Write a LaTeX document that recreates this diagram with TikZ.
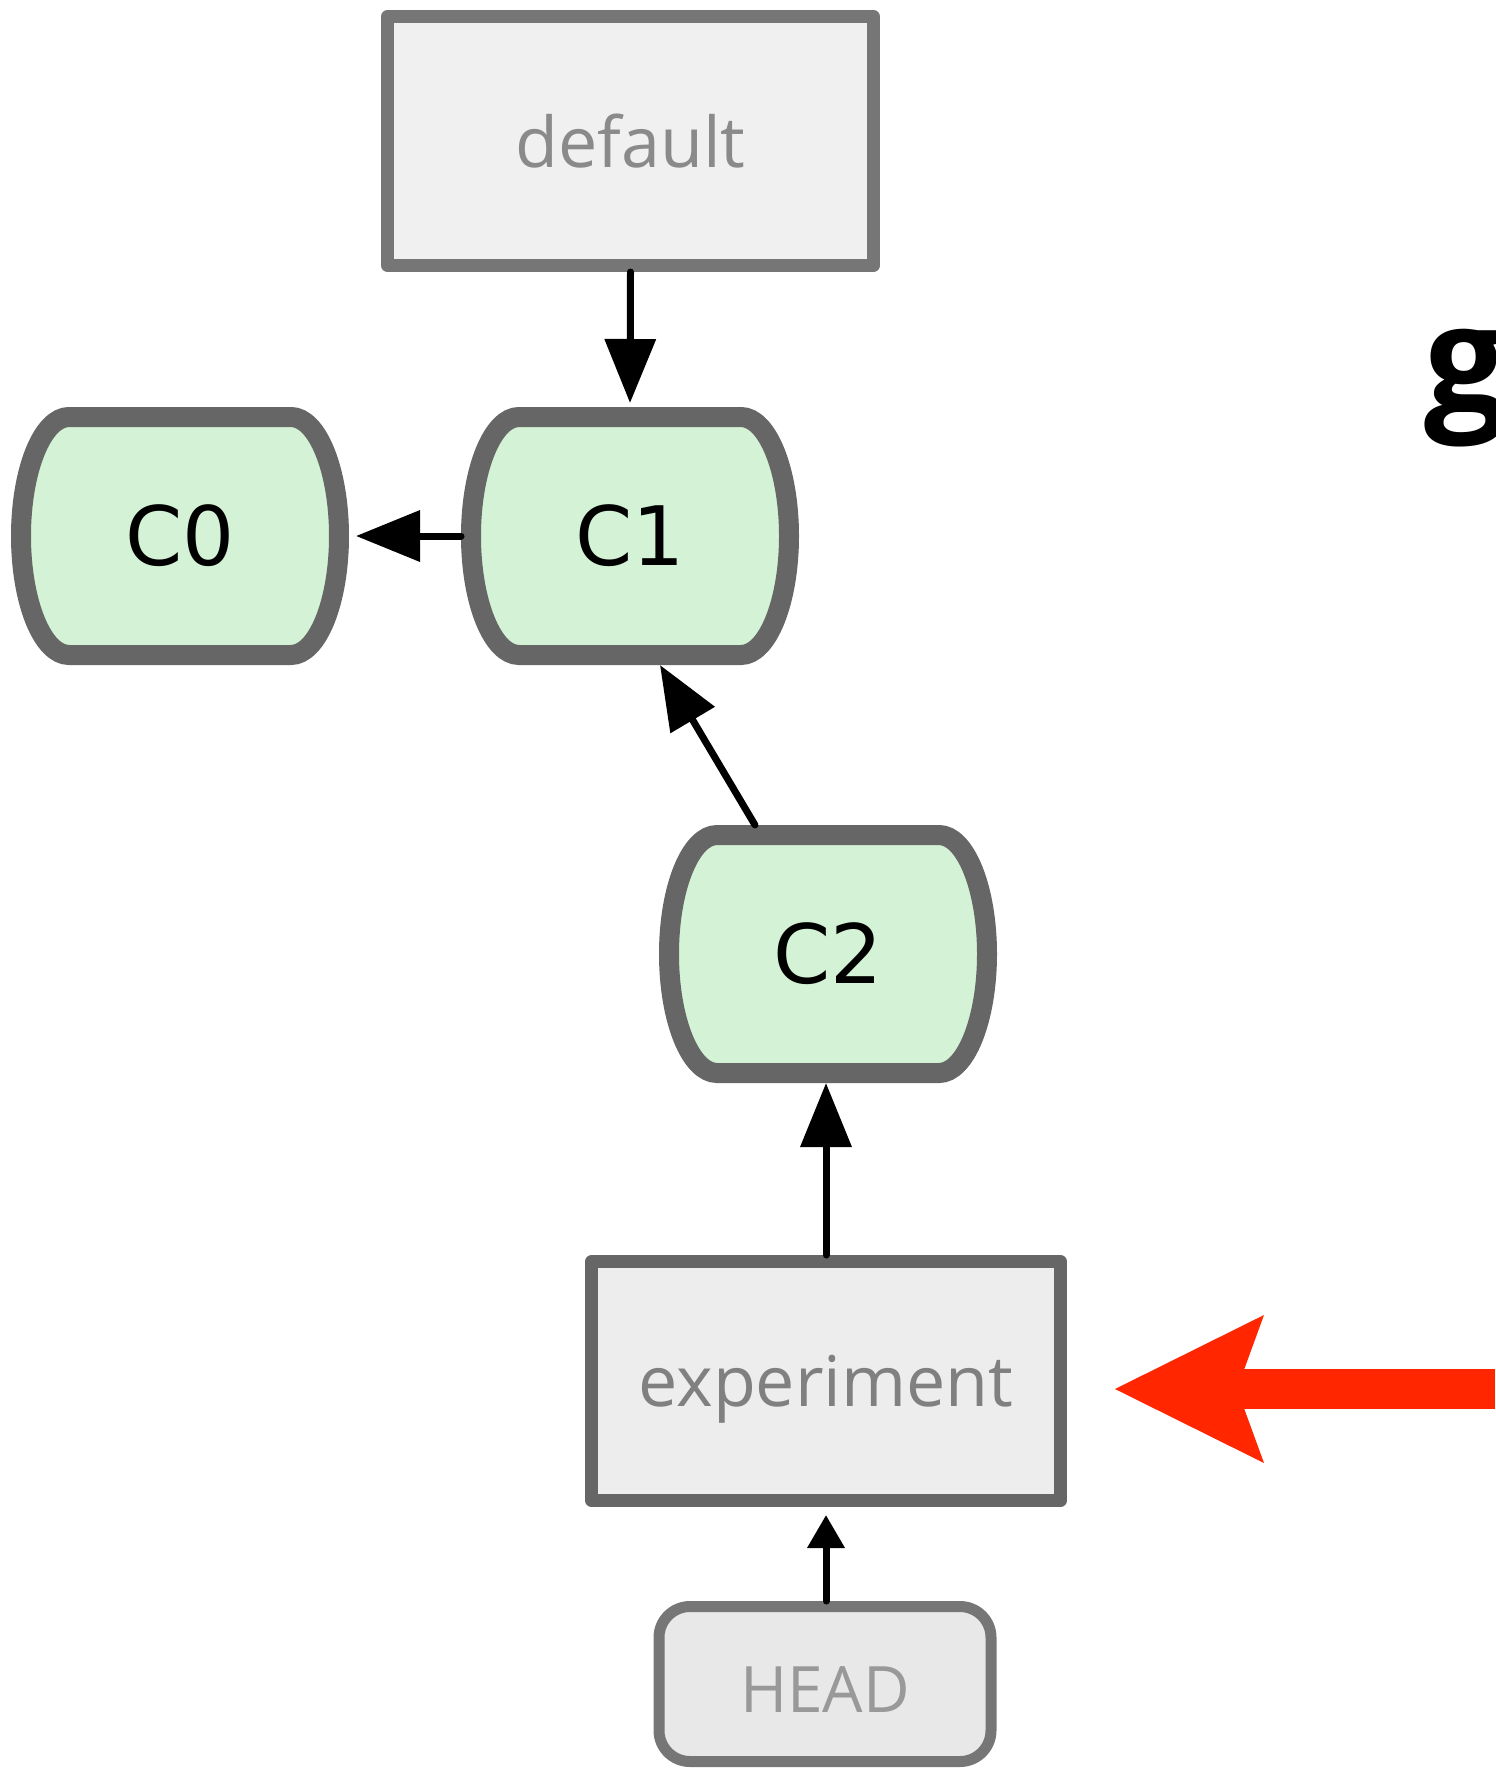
\documentclass[tikz,border=0pt]{standalone}
\usepackage{fontspec}
\newfontfamily\commitfont{DejaVu Sans}
\newfontfamily\labelfont{Open Sans}
\usetikzlibrary{arrows.meta,backgrounds}
\definecolor{commitfill}{HTML}{D4F3D6}
\definecolor{commitedge}{HTML}{666666}
\definecolor{branchfill}{HTML}{F0F0F0}
\definecolor{branchedge}{HTML}{767676}
\definecolor{branchtext}{HTML}{8A8A8A}
\definecolor{expfill}{HTML}{EDEDED}
\definecolor{exptext}{HTML}{808080}
\definecolor{headfill}{HTML}{E8E8E8}
\definecolor{headtext}{HTML}{999999}
\definecolor{alert}{HTML}{FF2600}
\begin{document}
\begin{tikzpicture}[x=0.5pt,y=-0.5pt,
  commit/.style={minimum width=169pt,minimum height=129pt,inner sep=0pt,outer sep=0pt,font=\commitfont\fontsize{41}{41}\selectfont},
  commitline/.style={draw=commitedge,fill=commitfill,line width=10pt},
  branch/.style={draw=branchedge,fill=branchfill,line width=6.5pt,line join=round,inner sep=0pt,text=branchtext,font=\labelfont\fontsize{35}{35}\selectfont},
  link/.style={line width=3.5pt,line cap=round,-{Triangle[length=32pt,width=25pt]}}]
\useasboundingbox (0,0) rectangle (1495,1768);
\node[commit] (c0) at (180,536) {C0};
\node[commit] (c1) at (630,536) {C1};
\node[commit] (c2) at (828,954) {C2};
\node[branch,minimum width=243pt,minimum height=124.5pt] (default) at (630.5,141) {default};
\node[branch,draw=commitedge,fill=expfill,text=exptext,text depth=0pt,minimum width=234.5pt,minimum height=119.5pt] (exp) at (826,1381) {experiment};
\node[draw=branchedge,fill=headfill,line width=5.5pt,rounded corners=15.5pt,minimum width=166pt,minimum height=77.5pt,inner sep=0pt,text height=28pt,text depth=0pt,text=headtext,font=\labelfont\fontsize{32}{32}\selectfont] (head) at (825,1684) {HEAD};
\begin{scope}[on background layer]
\foreach \n in {c0,c1,c2}
  \path[commitline] ([xshift=29pt,yshift=-5pt]\n.north west) -- ([xshift=-29pt,yshift=-5pt]\n.north east)
    arc[start angle=90,end angle=-90,x radius=24pt,y radius=59.5pt]
    -- ([xshift=29pt,yshift=5pt]\n.south west)
    arc[start angle=270,end angle=90,x radius=24pt,y radius=59.5pt] -- cycle;
\end{scope}
\draw[link,shorten >=2pt] (default.south) -- (c1.north);
\draw[link,shorten >=3.5pt] (c1.west) -- (c0.east);
\draw[link] ([xshift=-36.5pt]c2.north) -- ([xshift=15pt]c1.south);
\draw[link] (exp.north) -- (exp.north |- c2.south);
\draw[line width=3.5pt,line cap=round,-{Triangle[length=16.5pt,width=18pt]},shorten >=4pt] (exp.south |- head.north) -- (exp.south);
% pointer from the right
\coordinate (redtail) at (1495,1389);
\coordinate (redtip) at ([xshift=24pt]exp.east);
\draw[draw=alert,line width=20pt,-{Stealth[length=74.5pt,width=74pt,inset=13.5pt,line width=0pt]}] (redtail) -- (redtail -| redtip);
\node[anchor=base west,inner sep=0pt,font=\labelfont\bfseries\fontsize{74}{74}\selectfont] (word) at (1424,411) {g};
\end{tikzpicture}
\end{document}
